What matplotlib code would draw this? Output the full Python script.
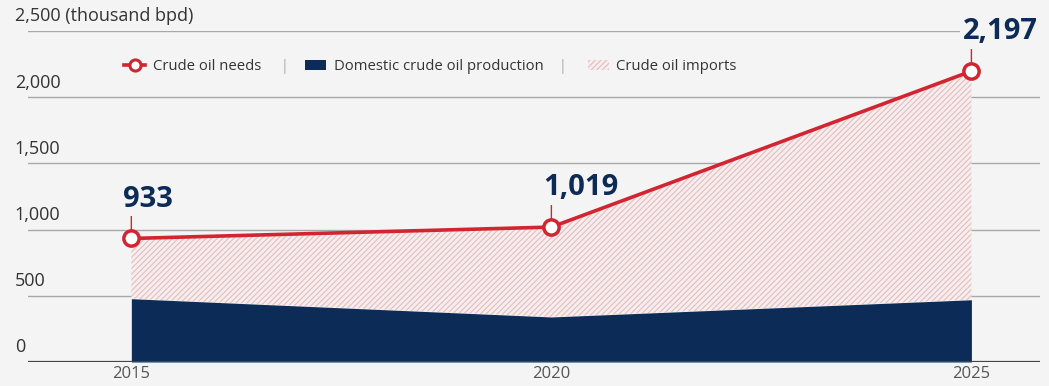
import matplotlib.pyplot as plt
from matplotlib.lines import Line2D
from matplotlib.patches import Patch
import matplotlib.transforms as mtransforms

plt.rcParams['font.family'] = ['Open Sans', 'DejaVu Sans']
plt.rcParams['hatch.linewidth'] = 0.8

years = [2015, 2020, 2025]
needs = [933, 1019, 2197]
production = [478, 340, 470]
need_labels = ["933", "1,019", "2,197"]
yticks = [0, 500, 1000, 1500, 2000, 2500]
ytick_labels = ["0", "500", "1,000", "1,500", "2,000", "2,500 (thousand bpd)"]

bg = "#f4f4f4"
red = "#d32531"
navy = "#0c2b57"
text_col = "#333333"

fig = plt.figure(figsize=(10.49, 3.86), dpi=100, facecolor=bg)
ax = fig.add_axes([0.0267, 0.0622, 0.965, 0.8575])
ax.set_facecolor(bg)
ax.set_xlim(2013.77, 2025.82)
ax.set_ylim(0, 2500)

# gridlines and y labels
for v in yticks[1:]:
    ax.axhline(v, color="#a8a8a8", lw=1, zorder=1)
trans = mtransforms.blended_transform_factory(ax.transAxes, ax.transData)
trans = trans + mtransforms.ScaledTranslation(0, 4 / 72, fig.dpi_scale_trans)
for v, lab in zip(yticks, ytick_labels):
    ax.text(-0.013, v, lab, transform=trans, ha="left", va="bottom",
            fontsize=13, color=text_col)
ax.axhline(0, color="#444444", lw=1.6, zorder=5)

# areas
ax.fill_between(years, 0, production, color=navy, lw=0, zorder=3)
ax.fill_between(years, production, needs, facecolor="#f6eeee",
                edgecolor="#e6bcbc", hatch="//////", lw=0, zorder=2)

# needs line
ax.plot(years, needs, color=red, lw=2.6, zorder=6, marker="o",
        markersize=11, markerfacecolor="white", markeredgecolor=red,
        markeredgewidth=2.5)

# value labels with stems
for x, y, lab in zip(years, needs, need_labels):
    ax.annotate("", xy=(x, y), xytext=(0, 26), textcoords="offset points",
                xycoords="data",
                arrowprops=dict(arrowstyle="-", color=red, lw=1,
                                shrinkA=0, shrinkB=5), zorder=5)
    ax.annotate(lab, xy=(x, y), xytext=(-6, 23), textcoords="offset points",
                ha="left", va="baseline", fontsize=21, fontweight="bold",
                color=navy, zorder=5.5, annotation_clip=False,
                bbox=dict(boxstyle="square,pad=0.1", fc=bg, ec="none"))

# x labels
ax.set_xticks(years)
ax.set_xticklabels([str(y) for y in years], fontsize=12, color="#555555")
ax.tick_params(axis="x", length=0, pad=3)
ax.set_yticks([])
for s in ax.spines.values():
    s.set_visible(False)

# legend
handles = [
    Line2D([], [], color=red, lw=2.6, marker="o", markersize=8,
           markerfacecolor="white", markeredgewidth=2.2),
    Patch(facecolor=navy, edgecolor="none"),
    Patch(facecolor="#f6eeee", edgecolor="#e6bcbc", hatch="//////", lw=0),
]
labels = ["Crude oil needs", "Domestic crude oil production", "Crude oil imports"]
leg = ax.legend(handles, labels, loc="center left", bbox_to_anchor=(0.082, 0.893),
                ncol=3, frameon=False, fontsize=10.7, handlelength=1.4,
                handletextpad=0.5, columnspacing=3.0, labelcolor=text_col)
leg.set_zorder(8)
for xp in [285, 563]:
    fig.text(xp / 1049, 1 - 67 / 386, "|", ha="center", va="center",
             fontsize=10, color="#aaaaaa")

fig.savefig("out.png", dpi=100, facecolor=bg)
